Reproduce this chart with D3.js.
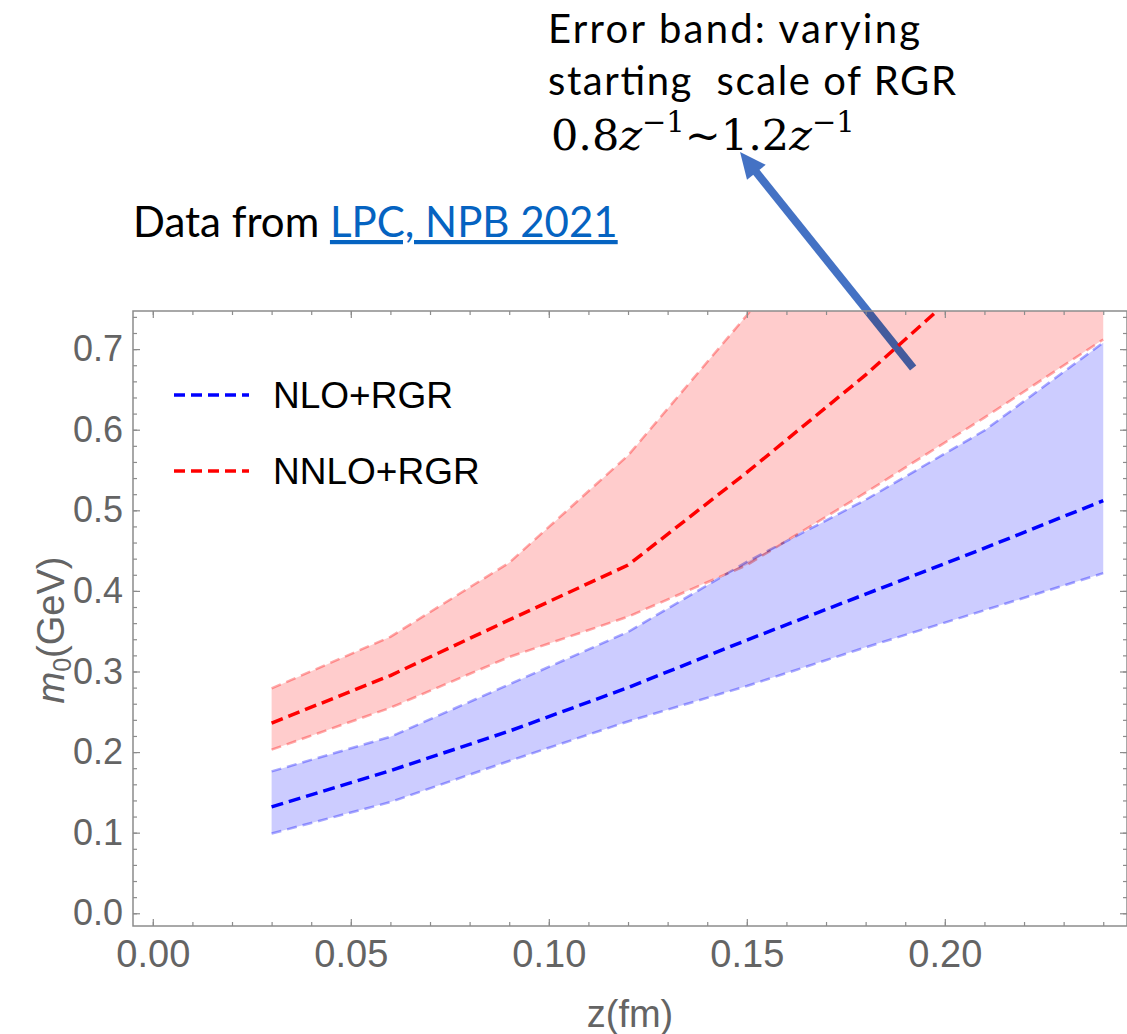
<!DOCTYPE html>
<html>
<head>
<meta charset="utf-8">
<script src="https://cdn.jsdelivr.net/npm/d3@7"></script>
<style>
  body { margin: 0; background: #fff; }
  svg { display: block; }
</style>
</head>
<body>
<div id="chart"></div>
<script>
// z values (fm) of the lattice points
let zValues = [0.03, 0.06, 0.09, 0.12, 0.15, 0.18, 0.21, 0.24]

// NLO+RGR : central value and the band from varying the RGR starting scale
let nloCenter = [0.132, 0.177, 0.226, 0.280, 0.339, 0.396, 0.453, 0.512]
let nloLower = [0.099, 0.138, 0.189, 0.238, 0.282, 0.330, 0.376, 0.422]
let nloUpper = [0.176, 0.219, 0.284, 0.349, 0.436, 0.513, 0.599, 0.708]

// NNLO+RGR
let nnloCenter = [0.236, 0.295, 0.364, 0.432, 0.547, 0.668, 0.80, 0.94]
let nnloLower = [0.203, 0.255, 0.318, 0.368, 0.432, 0.522, 0.615, 0.712]
let nnloUpper = [0.279, 0.343, 0.435, 0.568, 0.742, 0.93, 1.12, 1.32]

let xTicks = [0, 0.05, 0.10, 0.15, 0.20]
let yTicks = [0, 0.1, 0.2, 0.3, 0.4, 0.5, 0.6, 0.7]
let xMinorTicks = d3.range(0, 25).map(i => i / 100)
let yMinorTicks = d3.range(0, 38).map(i => i / 50)

let legendNames = ['NLO+RGR', 'NNLO+RGR']

// arrow of the annotation, in data units (tail inside the plot, tip above it)
let arrowFrom = [0.192, 0.6766]
let arrowTo = [0.1483, 0.9446]

let margin = { top: 311, left: 133, right: 0, bottom: 108 }
let width = 1127 - margin.left - margin.right
let height = 1034 - margin.top - margin.bottom

let svg = d3
  .select('#chart')
  .append('svg')
  .attr('width', 1127)
  .attr('height', 1034)

let g = svg
  .append('g')
  .attr('transform', 'translate(' + margin.left + ',' + margin.top + ')')

let xScale = d3.scaleLinear().domain([-0.005, 0.246]).range([0, width])
let yScale = d3.scaleLinear().domain([-0.0158, 0.7473]).range([height, 0])

let gray = '#8c8c8c'
let labelGray = '#646464'

// clip for everything drawn inside the frame
g.append('clipPath')
  .attr('id', 'plot-clip')
  .append('rect')
  .attr('width', width)
  .attr('height', height)

function drawArrow(parent) {
  let ax0 = xScale(arrowFrom[0])
  let ay0 = yScale(arrowFrom[1])
  let ax1 = xScale(arrowTo[0])
  let ay1 = yScale(arrowTo[1])
  let angle = Math.atan2(ay1 - ay0, ax1 - ax0)
  let headLen = 26
  let headHalf = 12
  let bx = ax1 - headLen * Math.cos(angle)
  let by = ay1 - headLen * Math.sin(angle)

  let arrow = parent.append('g').attr('class', 'arrow')
  arrow
    .append('line')
    .attr('x1', ax0)
    .attr('y1', ay0)
    .attr('x2', bx + 2 * Math.cos(angle))
    .attr('y2', by + 2 * Math.sin(angle))
    .attr('stroke', '#4472C4')
    .attr('stroke-width', 8)
  arrow
    .append('polygon')
    .attr('points', [
      [ax1, ay1],
      [bx + headHalf * Math.sin(angle), by - headHalf * Math.cos(angle)],
      [bx - headHalf * Math.sin(angle), by + headHalf * Math.cos(angle)]
    ].map(p => p.join(',')).join(' '))
    .attr('fill', '#4472C4')
}

// full arrow outside, and a copy inside the clipped plot so the bands multiply over it
drawArrow(g)

let plot = g.append('g').attr('clip-path', 'url(#plot-clip)')
plot.append('rect').attr('width', width).attr('height', height).attr('fill', '#fff')
drawArrow(plot)

let series = [
  { name: 'NLO+RGR', center: nloCenter, lower: nloLower, upper: nloUpper, color: '#0000ff', fill: '#ccccff', edge: '#a9a9ff' },
  { name: 'NNLO+RGR', center: nnloCenter, lower: nnloLower, upper: nnloUpper, color: '#ff0000', fill: '#ffcccc', edge: '#ffa9a9' }
]

let area = d3
  .area()
  .x((d, i) => xScale(zValues[i]))
  .y0(d => yScale(d[0]))
  .y1(d => yScale(d[1]))

let line = d3
  .line()
  .x((d, i) => xScale(zValues[i]))
  .y(d => yScale(d))

series.forEach(s => {
  plot
    .append('path')
    .datum(s.lower.map((v, i) => [v, s.upper[i]]))
    .attr('d', area)
    .attr('fill', s.fill)
    .style('mix-blend-mode', 'multiply')

  ;[s.lower, s.upper].forEach(edge => {
    plot
      .append('path')
      .datum(edge)
      .attr('d', line)
      .attr('fill', 'none')
      .attr('stroke', s.edge)
      .attr('stroke-width', 2.5)
      .attr('stroke-dasharray', '10,6')
      .style('mix-blend-mode', 'multiply')
  })
})

series.forEach(s => {
  plot
    .append('path')
    .datum(s.center)
    .attr('d', line)
    .attr('fill', 'none')
    .attr('stroke', s.color)
    .attr('stroke-width', 3.5)
    .attr('stroke-dasharray', '12,6')
})

// frame with inward ticks on all four sides
function styleAxis(sel) {
  sel.select('.domain').remove()
  sel.selectAll('line').attr('stroke', gray).attr('stroke-width', 1.2)
  sel.selectAll('text')
    .attr('fill', labelGray)
    .attr('font-family', 'Liberation Sans, Arial, sans-serif')
}

g.append('g')
  .attr('transform', `translate(0,${height})`)
  .call(d3.axisBottom(xScale).tickValues(xMinorTicks).tickSize(-4).tickFormat(''))
  .call(styleAxis)
g.append('g')
  .attr('transform', `translate(0,${height})`)
  .call(d3.axisBottom(xScale).tickValues(xTicks).tickSize(-7).tickPadding(14).tickFormat(d3.format('.2f')))
  .attr('font-size', 38)
  .call(styleAxis)
g.append('g')
  .call(d3.axisTop(xScale).tickValues(xMinorTicks).tickSize(-4).tickFormat(''))
  .call(styleAxis)
g.append('g')
  .call(d3.axisTop(xScale).tickValues(xTicks).tickSize(-7).tickFormat(''))
  .call(styleAxis)

g.append('g')
  .call(d3.axisLeft(yScale).tickValues(yMinorTicks).tickSize(-4).tickFormat(''))
  .call(styleAxis)
g.append('g')
  .call(d3.axisLeft(yScale).tickValues(yTicks).tickSize(-7).tickPadding(10).tickFormat(d3.format('.1f')))
  .attr('font-size', 36)
  .call(styleAxis)
g.append('g')
  .attr('transform', `translate(${width},0)`)
  .call(d3.axisRight(yScale).tickValues(yMinorTicks).tickSize(-4).tickFormat(''))
  .call(styleAxis)
g.append('g')
  .attr('transform', `translate(${width},0)`)
  .call(d3.axisRight(yScale).tickValues(yTicks).tickSize(-7).tickFormat(''))
  .call(styleAxis)

g.append('rect')
  .attr('width', width)
  .attr('height', height)
  .attr('fill', 'none')
  .attr('stroke', gray)
  .attr('stroke-width', 1.5)

// axis titles
g.append('text')
  .attr('x', width / 2)
  .attr('y', height + 101)
  .attr('text-anchor', 'middle')
  .attr('font-family', 'Liberation Sans, Arial, sans-serif')
  .attr('font-size', 38)
  .attr('fill', labelGray)
  .text('z(fm)')

let yTitle = svg
  .append('text')
  .attr('transform', 'translate(64,630) rotate(-90)')
  .attr('text-anchor', 'middle')
  .attr('font-family', 'Liberation Sans, Arial, sans-serif')
  .attr('font-size', 38)
  .attr('fill', labelGray)
yTitle.append('tspan').attr('font-style', 'italic').text('m')
yTitle.append('tspan').attr('font-size', 25).attr('dy', 7).text('0')
yTitle.append('tspan').attr('dy', -7).text('(GeV)')

// legend
let legend = g
  .selectAll('.legend')
  .data(legendNames)
  .enter()
  .append('g')
  .attr('class', 'legend')
  .attr('transform', (d, i) => `translate(41, ${84 + i * 76})`)

legend.each(function(d, i) {
  let lg = d3.select(this)
  lg.append('line')
    .attr('x1', 0)
    .attr('x2', 75)
    .attr('stroke', series[i].color)
    .attr('stroke-width', 3.5)
    .attr('stroke-dasharray', '11,6')
  lg.append('text')
    .attr('x', 99)
    .attr('dy', 13)
    .attr('font-family', 'Liberation Sans, Arial, sans-serif')
    .attr('font-size', 37)
    .attr('fill', '#000')
    .text(d)
})

// slide annotations
let noteFont = 'Lato, Open Sans, sans-serif'
svg.append('text')
  .attr('x', 548)
  .attr('y', 43)
  .attr('font-family', noteFont)
  .attr('font-size', 40)
  .attr('textLength', 372)
  .text('Error band: varying')
svg.append('text')
  .attr('x', 548)
  .attr('y', 95)
  .attr('font-family', noteFont)
  .attr('font-size', 40)
  .attr('textLength', 408)
  .attr('xml:space', 'preserve')
  .style('white-space', 'pre')
  .text('starting  scale of RGR')

let formula = svg
  .append('text')
  .attr('x', 551)
  .attr('y', 150)
  .attr('font-family', 'DejaVu Serif, serif')
  .attr('font-size', 43)
formula.append('tspan').text('0.8')
formula.append('tspan').attr('font-style', 'italic').text('z')
formula.append('tspan').attr('font-size', 29).attr('dy', -18).text('\u22121')
formula.append('tspan').attr('dy', 18).text('~1.2')
formula.append('tspan').attr('font-style', 'italic').text('z')
formula.append('tspan').attr('font-size', 29).attr('dy', -18).text('\u22121')

let source = svg
  .append('text')
  .attr('x', 133)
  .attr('y', 237)
  .attr('font-family', noteFont)
  .attr('font-size', 42)
source.append('tspan').text('Data from ')
source.append('tspan')
  .attr('fill', '#0563C1')
  .style('text-decoration', 'underline')
  .text('LPC, NPB 2021')
</script>
</body>
</html>
